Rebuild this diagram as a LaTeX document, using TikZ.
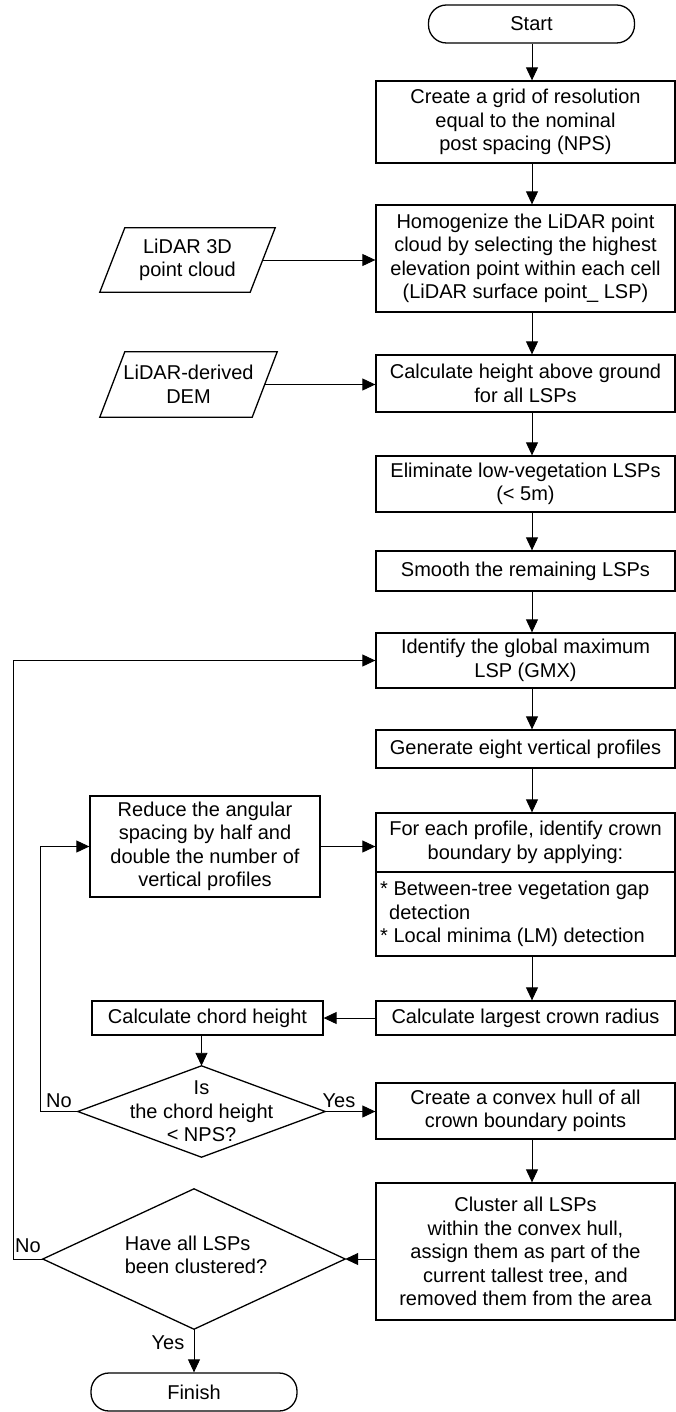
\documentclass[tikz,border=0pt]{standalone}
\usepackage{fontspec}
\setmainfont{Liberation Sans}
\usetikzlibrary{arrows.meta,calc}
\begin{document}
\begin{tikzpicture}[x=1pt,y=-1pt,
  every node/.style={font=\fontsize{20}{23.5}\selectfont, inner sep=0pt},
  mbox/.style={draw, line width=1.3pt, minimum width=299pt, align=center},
  sbox/.style={draw, line width=1.3pt, align=center},
  term/.style={draw, line width=1.3pt, rounded corners=18pt, minimum width=206pt, minimum height=38pt},
  hidden/.style={draw=none, align=center},
  outline/.style={line width=1.3pt, line join=miter},
  arr/.style={line width=0.9pt, -{Triangle[length=13pt,width=12pt]}},
  conn/.style={line width=0.9pt},
  lbl/.style={font=\fontsize{20}{23}\selectfont}
]
\useasboundingbox (0,0) rectangle (676,1412);
\coordinate (colx) at (532,0);
\coordinate (innerx) at (40,0);
\coordinate (outerx) at (13,0);

% terminators
\node[term] (start) at (531.5,24) {Start};
\node[term] (finish) at (194,1392) {Finish};

% main column
\node[mbox, minimum height=82pt] (b1) at (525.5,122) {Create a grid of resolution\\equal to the nominal\\post spacing (NPS)};
\node[mbox, minimum height=107pt] (b2) at (525.5,258.5) {Homogenize the LiDAR point\\cloud by selecting the highest\\elevation point within each cell\\(LiDAR surface point\_ LSP)};
\node[mbox, minimum height=57pt] (b3) at (525.5,383.5) {Calculate height above ground\\for all LSPs};
\node[mbox, minimum height=56pt] (b4) at (525.5,484) {Eliminate low-vegetation LSPs\\(< 5m)};
\node[mbox, minimum height=40pt] (b5) at (525.5,571) {Smooth the remaining LSPs};
\node[mbox, minimum height=55pt] (b6) at (525.5,660.5) {Identify the global maximum\\LSP (GMX)};
\node[mbox, minimum height=38pt] (b7) at (525.5,749) {Generate eight vertical profiles};
\node[mbox, minimum height=59pt] (b8a) at (525.5,842.5) {For each profile, identify crown\\boundary by applying:};
\node[mbox, minimum height=84pt] (b8b) at (525.5,914) {};
\node[anchor=west, align=left] (b8t) at (380,914) {* Between-tree vegetation gap\\\hspace*{9pt}detection\\* Local minima (LM) detection};
\node[mbox, minimum height=34pt] (b9) at (525.5,1018) {Calculate largest crown radius};
\node[mbox, minimum height=56pt] (b10) at (525.5,1111) {Create a convex hull of all\\crown boundary points};
\node[mbox, minimum height=137pt] (b11) at (525.5,1251.5) {Cluster all LSPs\\within the convex hull,\\assign them as part of the\\current tallest tree, and\\removed them from the area};

% left column
\node[sbox, minimum width=230pt, minimum height=101pt] (reduce) at (205,846.5) {Reduce the angular\\spacing by half and\\double the number of\\vertical profiles};
\node[sbox, minimum width=231pt, minimum height=34pt] (chord) at (207.5,1018) {Calculate chord height};

% parallelograms
\node[hidden, minimum width=150pt, minimum height=64pt] (p1) at (187.5,260) {LiDAR 3D\\point cloud};
\draw[outline] ([xshift=12.5pt]p1.north west) -- ([xshift=12.5pt]p1.north east) -- ([xshift=-12.5pt]p1.south east) -- ([xshift=-12.5pt]p1.south west) -- cycle;
\node[hidden, minimum width=152pt, minimum height=65pt] (p2) at (188.5,384.5) {LiDAR-derived\\DEM};
\draw[outline] ([xshift=12.5pt]p2.north west) -- ([xshift=12.5pt]p2.north east) -- ([xshift=-12.5pt]p2.south east) -- ([xshift=-12.5pt]p2.south west) -- cycle;

% diamonds
\node[hidden, minimum width=247pt, minimum height=91pt] (d1) at (201.5,1111.5) {Is\\the chord height\\< NPS?};
\draw[outline] (d1.north) -- (d1.east) -- (d1.south) -- (d1.west) -- cycle;
\node[hidden, minimum width=302pt, minimum height=140pt] (d2) at (194,1259) {};
\node[align=left] (d2t) at (196,1255) {Have all LSPs\\been clustered?};
\draw[outline] (d2.north) -- (d2.east) -- (d2.south) -- (d2.west) -- cycle;

% labels
\node[lbl] (no1) at (59,1101) {No};
\node[lbl] (yes1) at (339,1101) {Yes};
\node[lbl] (no2) at (28,1246) {No};
\node[lbl] (yes2) at (168,1343) {Yes};

% main column arrows
\draw[arr] (start.south -| colx) -- (b1.north -| colx);
\draw[arr] (b1.south -| colx) -- (b2.north -| colx);
\draw[arr] (b2.south -| colx) -- (b3.north -| colx);
\draw[arr] (b3.south -| colx) -- (b4.north -| colx);
\draw[arr] (b4.south -| colx) -- (b5.north -| colx);
\draw[arr] (b5.south -| colx) -- (b6.north -| colx);
\draw[arr] (b6.south -| colx) -- (b7.north -| colx);
\draw[arr] (b7.south -| colx) -- (b8a.north -| colx);
\draw[arr] (b8b.south -| colx) -- (b9.north -| colx);
\draw[arr] (b10.south -| colx) -- (b11.north -| colx);

% side arrows
\draw[arr] (p1.east) -- (p1.east -| b2.west);
\draw[arr] (p2.east) -- (p2.east -| b3.west);
\draw[arr] (reduce.east) -- (reduce.east -| b8a.west);
\draw[arr] (b9.west) -- (chord.east);
\draw[arr] (d1.north |- chord.south) -- (d1.north);
\draw[arr] (d1.east) -- (d1.east -| b10.west);
\draw[arr] (b11.west |- d2.east) -- (d2.east);
\draw[arr] (d2.south) -- (finish.north);

% feedback loops
\draw[arr] (d1.west) -- (d1.west -| innerx) -- (innerx |- reduce.west) -- (reduce.west);
\draw[arr] (d2.west) -- (d2.west -| outerx) -- (outerx |- b6.west) -- (b6.west);
\end{tikzpicture}
\end{document}
